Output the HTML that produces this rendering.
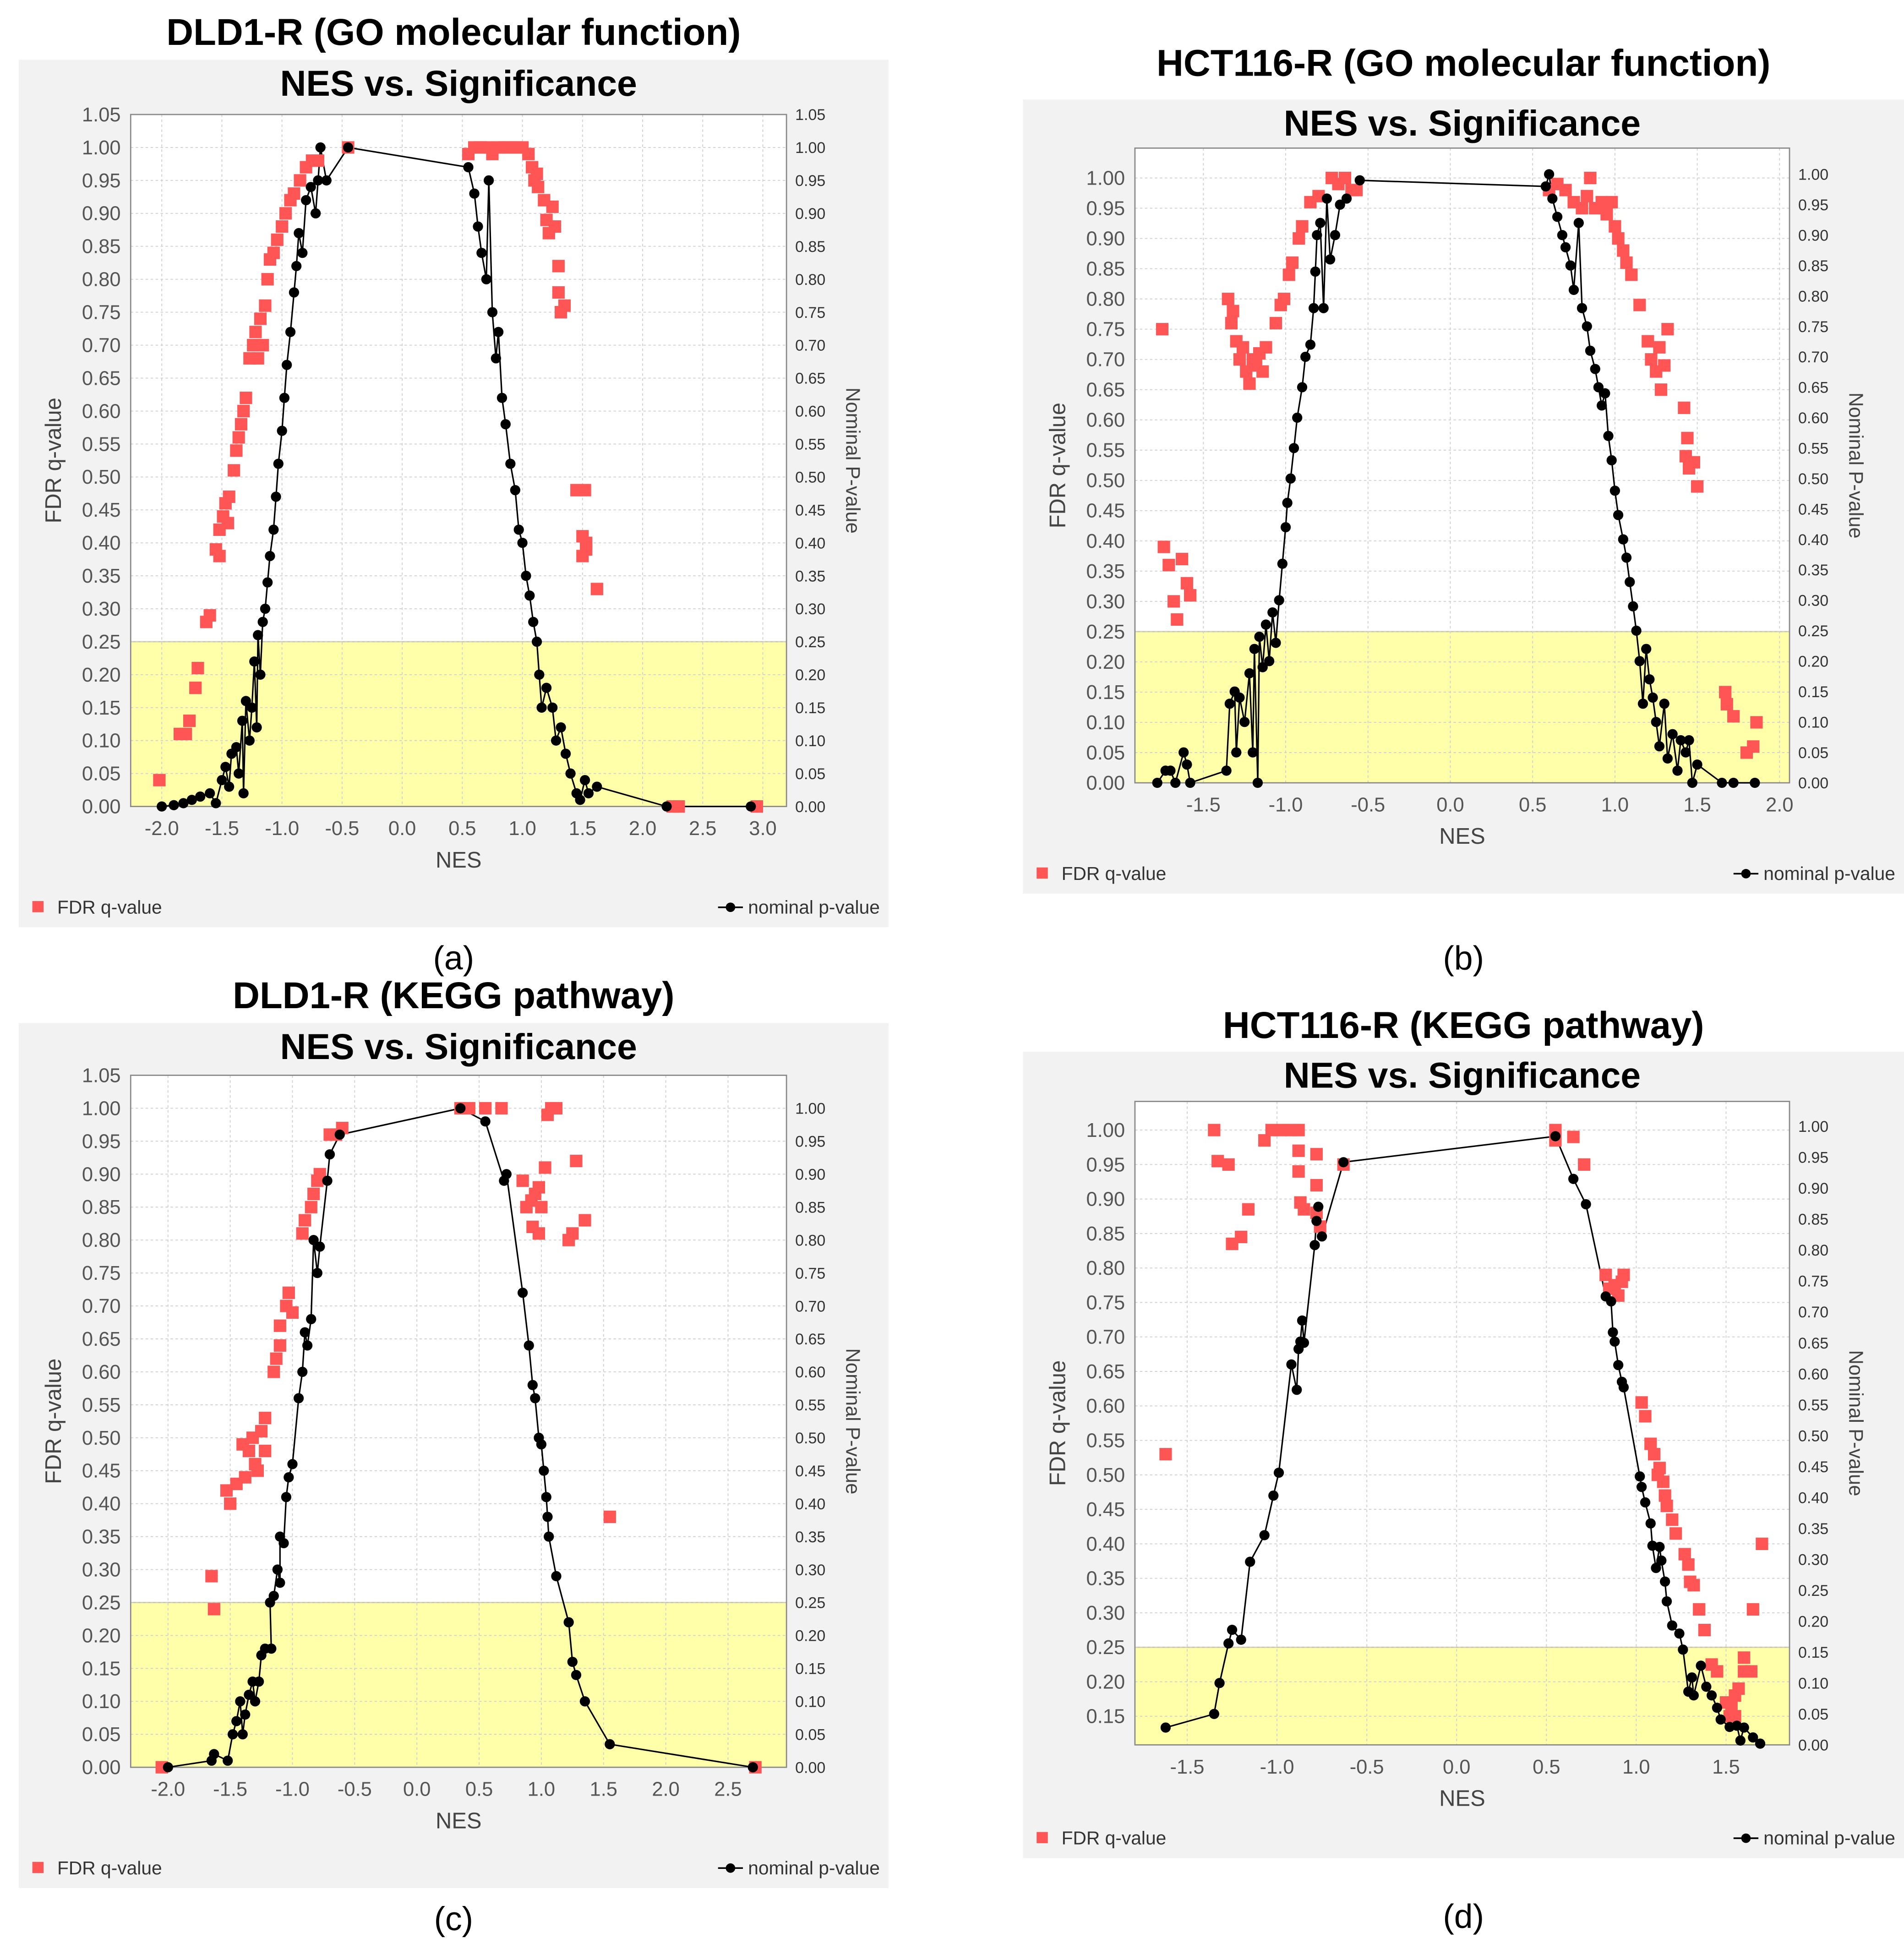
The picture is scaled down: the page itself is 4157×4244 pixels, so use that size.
<!DOCTYPE html>
<html><head><meta charset="utf-8"><style>
html,body{margin:0;padding:0;background:#fff;}
svg{display:block;}
text{font-family:"Liberation Sans",Arial,sans-serif;}
</style></head><body>
<svg id="fig" xmlns="http://www.w3.org/2000/svg" width="4157" height="4244" viewBox="0 0 1530 1562" preserveAspectRatio="none"></svg>
<script>
// ---------- Panel (a) data ----------
const aBlack = [[-2.0,0.0],[-1.9,0.002],[-1.82,0.005],[-1.75,0.01],[-1.68,0.015],[-1.6,0.02],[-1.55,0.005],[-1.5,0.04],[-1.47,0.06],[-1.44,0.03],[-1.42,0.08],[-1.38,0.09],[-1.36,0.05],[-1.33,0.13],[-1.32,0.02],[-1.3,0.16],[-1.27,0.1],[-1.25,0.15],[-1.23,0.22],[-1.21,0.12],[-1.2,0.26],[-1.18,0.2],[-1.16,0.28],[-1.14,0.3],[-1.12,0.34],[-1.1,0.38],[-1.07,0.42],[-1.05,0.47],[-1.03,0.52],[-1.0,0.57],[-0.98,0.62],[-0.96,0.67],[-0.93,0.72],[-0.9,0.78],[-0.88,0.82],[-0.86,0.87],[-0.83,0.84],[-0.8,0.92],[-0.76,0.94],[-0.72,0.9],[-0.7,0.95],[-0.68,1.0],[-0.63,0.95],[-0.45,1.0],[0.55,0.97],[0.6,0.93],[0.63,0.88],[0.66,0.84],[0.7,0.8],[0.72,0.95],[0.75,0.75],[0.78,0.68],[0.8,0.72],[0.83,0.62],[0.86,0.58],[0.9,0.52],[0.94,0.48],[0.97,0.42],[1.0,0.4],[1.03,0.35],[1.06,0.32],[1.09,0.28],[1.12,0.25],[1.14,0.2],[1.16,0.15],[1.2,0.18],[1.25,0.15],[1.28,0.1],[1.32,0.12],[1.36,0.08],[1.4,0.05],[1.45,0.02],[1.48,0.01],[1.52,0.04],[1.55,0.02],[1.62,0.03],[2.2,0.0],[2.9,0.0]];
const aRed = [[-2.02,0.04],[-1.85,0.11],[-1.8,0.11],[-1.77,0.13],[-1.72,0.18],[-1.7,0.21],[-1.63,0.28],[-1.6,0.29],[-1.55,0.39],[-1.52,0.38],[-1.52,0.42],[-1.49,0.44],[-1.47,0.46],[-1.45,0.43],[-1.44,0.47],[-1.4,0.51],[-1.38,0.54],[-1.36,0.56],[-1.34,0.58],[-1.32,0.6],[-1.3,0.62],[-1.27,0.68],[-1.24,0.7],[-1.22,0.72],[-1.2,0.68],[-1.18,0.74],[-1.16,0.7],[-1.14,0.76],[-1.12,0.8],[-1.1,0.83],[-1.07,0.84],[-1.04,0.86],[-1.0,0.88],[-0.97,0.9],[-0.93,0.92],[-0.9,0.93],[-0.85,0.95],[-0.8,0.97],[-0.75,0.98],[-0.7,0.98],[-0.45,1.0],[0.55,0.99],[0.6,1.0],[0.65,1.0],[0.7,1.0],[0.75,0.99],[0.8,1.0],[0.85,1.0],[0.9,1.0],[0.95,1.0],[1.0,1.0],[1.05,0.99],[1.08,0.97],[1.1,0.95],[1.12,0.96],[1.13,0.94],[1.18,0.92],[1.2,0.89],[1.22,0.87],[1.25,0.91],[1.27,0.88],[1.3,0.82],[1.3,0.78],[1.32,0.75],[1.35,0.76],[1.45,0.48],[1.52,0.48],[1.5,0.41],[1.53,0.4],[1.5,0.38],[1.53,0.39],[1.62,0.33],[2.25,0.0],[2.3,0.0],[2.95,0.0]];
const aXTicks = ["-2.0","-1.5","-1.0","-0.5","0.0","0.5","1.0","1.5","2.0","2.5","3.0"];
const aYTicks = ["0.00","0.05","0.10","0.15","0.20","0.25","0.30","0.35","0.40","0.45","0.50","0.55","0.60","0.65","0.70","0.75","0.80","0.85","0.90","0.95","1.00","1.05"];
const aRTicks = aYTicks;

// ---------- Panel (b) data ----------
const bBlack = [[-1.78,0.0],[-1.73,0.02],[-1.7,0.02],[-1.67,0.0],[-1.62,0.05],[-1.6,0.03],[-1.58,0.0],[-1.36,0.02],[-1.34,0.13],[-1.31,0.15],[-1.3,0.05],[-1.28,0.14],[-1.25,0.1],[-1.22,0.18],[-1.2,0.05],[-1.19,0.22],[-1.17,0.0],[-1.16,0.24],[-1.14,0.19],[-1.12,0.26],[-1.1,0.2],[-1.08,0.28],[-1.06,0.23],[-1.04,0.3],[-1.02,0.36],[-1.0,0.42],[-0.99,0.46],[-0.97,0.5],[-0.95,0.55],[-0.93,0.6],[-0.9,0.65],[-0.88,0.7],[-0.85,0.72],[-0.83,0.78],[-0.82,0.84],[-0.81,0.9],[-0.79,0.92],[-0.77,0.78],[-0.75,0.96],[-0.73,0.86],[-0.7,0.9],[-0.67,0.95],[-0.63,0.96],[-0.55,0.99],[0.58,0.98],[0.6,1.0],[0.62,0.96],[0.65,0.93],[0.68,0.9],[0.7,0.88],[0.73,0.85],[0.75,0.81],[0.78,0.92],[0.8,0.78],[0.83,0.75],[0.85,0.71],[0.88,0.68],[0.9,0.65],[0.92,0.62],[0.94,0.64],[0.96,0.57],[0.98,0.53],[1.0,0.48],[1.02,0.44],[1.05,0.4],[1.07,0.37],[1.09,0.33],[1.11,0.29],[1.13,0.25],[1.15,0.2],[1.17,0.13],[1.19,0.22],[1.21,0.17],[1.23,0.14],[1.25,0.1],[1.27,0.06],[1.3,0.13],[1.32,0.04],[1.35,0.08],[1.38,0.02],[1.4,0.07],[1.43,0.05],[1.45,0.07],[1.47,0.0],[1.5,0.03],[1.65,0.0],[1.72,0.0],[1.85,0.0]];
const bRed = [[-1.75,0.75],[-1.74,0.39],[-1.71,0.36],[-1.68,0.3],[-1.66,0.27],[-1.63,0.37],[-1.6,0.33],[-1.58,0.31],[-1.35,0.8],[-1.32,0.78],[-1.33,0.76],[-1.3,0.73],[-1.28,0.7],[-1.26,0.72],[-1.24,0.68],[-1.22,0.66],[-1.2,0.7],[-1.18,0.69],[-1.16,0.71],[-1.14,0.68],[-1.12,0.72],[-1.06,0.76],[-1.03,0.79],[-1.01,0.8],[-0.98,0.84],[-0.96,0.86],[-0.92,0.9],[-0.9,0.92],[-0.85,0.96],[-0.8,0.97],[-0.72,1.0],[-0.68,0.99],[-0.64,1.0],[-0.6,0.98],[-0.57,0.98],[0.6,0.98],[0.65,0.99],[0.7,0.98],[0.75,0.96],[0.8,0.95],[0.83,0.97],[0.85,1.0],[0.88,0.95],[0.92,0.96],[0.95,0.94],[0.98,0.96],[1.0,0.92],[1.02,0.9],[1.05,0.88],[1.07,0.86],[1.1,0.84],[1.15,0.79],[1.2,0.73],[1.22,0.7],[1.25,0.68],[1.27,0.72],[1.28,0.65],[1.3,0.69],[1.32,0.75],[1.42,0.62],[1.44,0.57],[1.43,0.54],[1.45,0.52],[1.48,0.53],[1.5,0.49],[1.67,0.15],[1.68,0.13],[1.72,0.11],[1.8,0.05],[1.84,0.06],[1.86,0.1]];
const bXTicks = ["-1.5","-1.0","-0.5","0.0","0.5","1.0","1.5","2.0"];
const bYTicks = ["0.00","0.05","0.10","0.15","0.20","0.25","0.30","0.35","0.40","0.45","0.50","0.55","0.60","0.65","0.70","0.75","0.80","0.85","0.90","0.95","1.00"];
const bRTicks = bYTicks;

// ---------- Panel (c) data ----------
const cBlack = [[-2.0,0.0],[-1.65,0.01],[-1.63,0.02],[-1.52,0.01],[-1.48,0.05],[-1.45,0.07],[-1.42,0.1],[-1.4,0.05],[-1.38,0.08],[-1.35,0.11],[-1.32,0.13],[-1.3,0.1],[-1.27,0.13],[-1.25,0.17],[-1.22,0.18],[-1.17,0.18],[-1.18,0.25],[-1.15,0.26],[-1.12,0.3],[-1.1,0.28],[-1.1,0.35],[-1.07,0.34],[-1.05,0.41],[-1.03,0.44],[-1.0,0.46],[-0.95,0.56],[-0.92,0.6],[-0.9,0.66],[-0.88,0.64],[-0.85,0.68],[-0.83,0.8],[-0.8,0.75],[-0.78,0.79],[-0.72,0.89],[-0.7,0.93],[-0.62,0.96],[0.35,1.0],[0.55,0.98],[0.7,0.89],[0.72,0.9],[0.85,0.72],[0.9,0.64],[0.93,0.58],[0.95,0.56],[0.98,0.5],[1.0,0.49],[1.02,0.45],[1.04,0.41],[1.05,0.38],[1.06,0.35],[1.12,0.29],[1.22,0.22],[1.25,0.16],[1.28,0.14],[1.35,0.1],[1.55,0.035],[2.7,0.0]];
const cRed = [[-2.05,0.0],[-1.65,0.29],[-1.63,0.24],[-1.53,0.42],[-1.5,0.4],[-1.45,0.43],[-1.38,0.44],[-1.4,0.49],[-1.35,0.48],[-1.32,0.5],[-1.3,0.46],[-1.28,0.45],[-1.25,0.51],[-1.22,0.53],[-1.22,0.48],[-1.15,0.6],[-1.13,0.62],[-1.1,0.64],[-1.1,0.67],[-1.05,0.7],[-1.03,0.72],[-1.0,0.69],[-0.92,0.81],[-0.9,0.83],[-0.85,0.85],[-0.83,0.87],[-0.8,0.89],[-0.78,0.9],[-0.7,0.96],[-0.65,0.96],[-0.6,0.97],[0.35,1.0],[0.42,1.0],[0.55,1.0],[0.68,1.0],[0.85,0.89],[0.88,0.85],[0.92,0.86],[0.95,0.87],[0.98,0.88],[1.0,0.85],[0.93,0.82],[0.98,0.81],[1.03,0.91],[1.05,0.99],[1.08,1.0],[1.12,1.0],[1.28,0.92],[1.22,0.8],[1.25,0.81],[1.35,0.83],[1.55,0.38],[2.72,0.0]];
const cXTicks = ["-2.0","-1.5","-1.0","-0.5","0.0","0.5","1.0","1.5","2.0","2.5"];
const cYTicks = aYTicks;
const cRTicks = bYTicks;

// ---------- Panel (d) data ----------
const dBlack = [[-1.62,0.028],[-1.35,0.05],[-1.32,0.10],[-1.27,0.164],[-1.25,0.186],[-1.2,0.17],[-1.15,0.296],[-1.07,0.339],[-1.02,0.403],[-0.99,0.44],[-0.92,0.615],[-0.89,0.574],[-0.88,0.64],[-0.87,0.652],[-0.86,0.686],[-0.85,0.65],[-0.79,0.808],[-0.78,0.847],[-0.77,0.87],[-0.75,0.822],[-0.63,0.942],[0.55,0.984],[0.65,0.915],[0.72,0.874],[0.83,0.725],[0.86,0.717],[0.87,0.667],[0.88,0.652],[0.9,0.614],[0.92,0.587],[0.93,0.578],[1.02,0.434],[1.03,0.417],[1.05,0.392],[1.08,0.358],[1.09,0.322],[1.11,0.286],[1.13,0.32],[1.14,0.298],[1.16,0.264],[1.17,0.232],[1.2,0.193],[1.24,0.18],[1.26,0.154],[1.29,0.086],[1.31,0.109],[1.32,0.08],[1.36,0.128],[1.39,0.094],[1.42,0.08],[1.45,0.06],[1.47,0.041],[1.52,0.029],[1.56,0.031],[1.58,0.007],[1.6,0.028],[1.65,0.012],[1.69,0.002]];
const dRed = [[-1.62,0.53],[-1.35,1.0],[-1.33,0.955],[-1.27,0.95],[-1.25,0.835],[-1.2,0.845],[-1.16,0.885],[-1.07,0.985],[-1.03,1.0],[-0.98,1.0],[-0.92,1.0],[-0.88,1.0],[-0.88,0.97],[-0.88,0.94],[-0.87,0.895],[-0.85,0.885],[-0.78,0.965],[-0.78,0.92],[-0.78,0.88],[-0.76,0.86],[-0.63,0.95],[0.55,1.0],[0.55,0.985],[0.65,0.99],[0.71,0.95],[0.83,0.79],[0.85,0.77],[0.88,0.775],[0.9,0.76],[0.92,0.78],[0.93,0.79],[1.03,0.605],[1.05,0.585],[1.08,0.545],[1.1,0.53],[1.12,0.5],[1.13,0.51],[1.15,0.49],[1.16,0.47],[1.17,0.455],[1.2,0.435],[1.22,0.415],[1.27,0.385],[1.29,0.37],[1.3,0.345],[1.32,0.34],[1.35,0.305],[1.38,0.275],[1.42,0.225],[1.45,0.215],[1.5,0.17],[1.52,0.15],[1.53,0.165],[1.55,0.18],[1.55,0.15],[1.57,0.19],[1.6,0.235],[1.6,0.215],[1.64,0.215],[1.65,0.305],[1.7,0.4]];
const dXTicks = ["-1.5","-1.0","-0.5","0.0","0.5","1.0","1.5"];
const dYTicks = ["0.15","0.20","0.25","0.30","0.35","0.40","0.45","0.50","0.55","0.60","0.65","0.70","0.75","0.80","0.85","0.90","0.95","1.00"];
const dRTicks = bYTicks;

const NS = "http://www.w3.org/2000/svg";
const svg = document.getElementById('fig');
function mk(tag, attrs, parent, txt) {
  const e = document.createElementNS(NS, tag);
  for (const k in attrs) e.setAttribute(k, attrs[k]);
  if (txt !== undefined) e.textContent = txt;
  (parent || svg).appendChild(e);
  return e;
}
function lin(v1, p1, v2, p2) { return v => p1 + (v - v1) * (p2 - p1) / (v2 - v1); }

function panel(id, c, black, red, xt, yt, rt) {
  const g = mk('g', {});
  
  
  const X = lin(c.xr[0], c.xr[1], c.xr[2], c.xr[3]);
  const YL = lin(c.yl[0], c.yl[1], c.yl[2], c.yl[3]);
  const YR = lin(c.yr[0], c.yr[1], c.yr[2], c.yr[3]);
  const t = mk('text', {x: c.bx + c.bw / 2, y: c.ty, 'text-anchor': 'middle', 'font-size': 30, 'font-weight': 'bold', fill: '#000'}, g, c.title);
  
  
  const bg = mk('rect', {x: c.bx, y: c.by, width: c.bw, height: c.bh, fill: '#f2f2f2'}, g);
  
  
  const st = mk('text', {x: (c.p[0] + c.p[1]) / 2, y: c.by + 29, 'text-anchor': 'middle', 'font-size': 29, 'font-weight': 'bold', fill: '#000'}, g, 'NES vs. Significance');
  
  
  const pa = mk('rect', {x: c.p[0], y: c.p[2], width: c.p[1] - c.p[0], height: c.p[3] - c.p[2], fill: '#fff'}, g);
  
  
  const yb = YL(0.25);
  const band = mk('rect', {x: c.p[0], y: yb, width: c.p[1] - c.p[0], height: c.p[3] - yb, fill: '#ffffaa'}, g);
  
  
  mk('line', {x1: c.p[0], x2: c.p[1], y1: yb, y2: yb, stroke: '#c8c8a0', 'stroke-width': 1}, g);
  xt.forEach(s => {
    const v = parseFloat(s), px = X(v);
    const gl = mk('line', {x1: px, x2: px, y1: c.p[2], y2: c.p[3], stroke: '#d0d0d0', 'stroke-width': 0.7, 'stroke-dasharray': '2,2'}, g);
    
    
    const tl = mk('text', {x: px, y: c.p[3] + 23, 'text-anchor': 'middle', 'font-size': 16, fill: '#555'}, g, s);
    
    
  });
  yt.forEach(s => {
    const v = parseFloat(s), py = YL(v);
    const gl = mk('line', {x1: c.p[0], x2: c.p[1], y1: py, y2: py, stroke: '#d0d0d0', 'stroke-width': 0.7, 'stroke-dasharray': '2,2'}, g);
    
    
    const tl = mk('text', {x: c.p[0] - 8, y: py + 5.5, 'text-anchor': 'end', 'font-size': 16, fill: '#555'}, g, s);
    
    
  });
  rt.forEach(s => {
    const v = parseFloat(s), py = YR(v);
    const tl = mk('text', {x: c.p[1] + 7, y: py + 4.5, 'text-anchor': 'start', 'font-size': 12.5, fill: '#333'}, g, s);
    
    
  });
  const border = mk('rect', {x: c.p[0], y: c.p[2], width: c.p[1] - c.p[0], height: c.p[3] - c.p[2], fill: 'none', stroke: '#888', 'stroke-width': 1}, g);
  
  
  const pts = black.map(d => X(d[0]).toFixed(1) + ',' + YR(d[1]).toFixed(1)).join(' ');
  const pl = mk('polyline', {points: pts, fill: 'none', stroke: '#000', 'stroke-width': 1.2}, g);
  
  
  red.forEach(d => {
    const r = mk('rect', {x: X(d[0]) - 5, y: YL(d[1]) - 5, width: 10, height: 10, fill: '#ff5555'}, g);
    
    
  });
  black.forEach(d => {
    const cc = mk('circle', {cx: X(d[0]), cy: YR(d[1]), r: 4.1, fill: '#000'}, g);
    
    
  });
  const xl = mk('text', {x: (c.p[0] + c.p[1]) / 2, y: c.p[3] + 49, 'text-anchor': 'middle', 'font-size': 18, fill: '#444'}, g, 'NES');
  
  
  const ym = (c.p[2] + c.p[3]) / 2;
  const yl = mk('text', {x: c.bx + 34, y: ym, 'text-anchor': 'middle', 'font-size': 18, fill: '#444', transform: 'rotate(-90 ' + (c.bx + 34) + ' ' + ym + ')'}, g, 'FDR q-value');
  
  
  const rx = c.p[1] + 48;
  const ry = mk('text', {x: rx, y: ym, 'text-anchor': 'middle', 'font-size': 16, fill: '#444', transform: 'rotate(90 ' + rx + ' ' + ym + ')'}, g, 'Nominal P-value');
  
  
  const ly = c.by + c.bh - 16;
  const lr = mk('rect', {x: c.bx + 11, y: ly - 5, width: 9, height: 9, fill: '#ff5555'}, g);
  
  
  const lt = mk('text', {x: c.bx + 31, y: ly + 5, 'font-size': 15, fill: '#333'}, g, 'FDR q-value');
  
  
  const rtx = c.bx + c.bw - 7;
  const lt2 = mk('text', {x: rtx, y: ly + 5, 'font-size': 15, 'text-anchor': 'end', fill: '#333'}, g, 'nominal p-value');
  
  
  const li = mk('line', {x1: rtx - 130, x2: rtx - 110, y1: ly, y2: ly, stroke: '#000', 'stroke-width': 1.3}, g);
  
  
  mk('circle', {cx: rtx - 120, cy: ly, r: 3.8, fill: '#000'}, g);
  const lab = mk('text', {x: c.bx + c.bw / 2, y: c.ly, 'text-anchor': 'middle', 'font-size': 27, 'font-family': '"Liberation Serif",serif', fill: '#000'}, g, c.label);
  
  
}

panel('a', {title: 'DLD1-R (GO molecular function)', ty: 36, label: '(a)', ly: 779, bx: 15, by: 48, bw: 699, bh: 697,
  p: [105, 632, 92, 648], xr: [-2, 130, 3, 613], yl: [0, 648, 1.05, 92], yr: [0, 648, 1.05, 92]}, aBlack, aRed, aXTicks, aYTicks, aRTicks);
panel('b', {title: 'HCT116-R (GO molecular function)', ty: 61, label: '(b)', ly: 779, bx: 822, by: 80, bw: 708, bh: 638,
  p: [912, 1438, 119, 629], xr: [-1.5, 967, 2, 1430], yl: [0, 629, 1, 143], yr: [0, 629, 1, 140]}, bBlack, bRed, bXTicks, bYTicks, bRTicks);
panel('c', {title: 'DLD1-R (KEGG pathway)', ty: 810, label: '(c)', ly: 1551, bx: 15, by: 822, bw: 699, bh: 695,
  p: [105, 632, 864, 1420], xr: [-2, 135, 2.5, 585], yl: [0, 1420, 1.05, 864], yr: [0, 1420, 1.05, 864]}, cBlack, cRed, cXTicks, cYTicks, cRTicks);
panel('d', {title: 'HCT116-R (KEGG pathway)', ty: 834, label: '(d)', ly: 1549, bx: 822, by: 845, bw: 708, bh: 648,
  p: [912, 1438, 885, 1402], xr: [-1.5, 954, 1.5, 1387], yl: [0.15, 1379, 1, 908], yr: [0, 1402, 1, 905]}, dBlack, dRed, dXTicks, dYTicks, dRTicks);
</script>
</body></html>
